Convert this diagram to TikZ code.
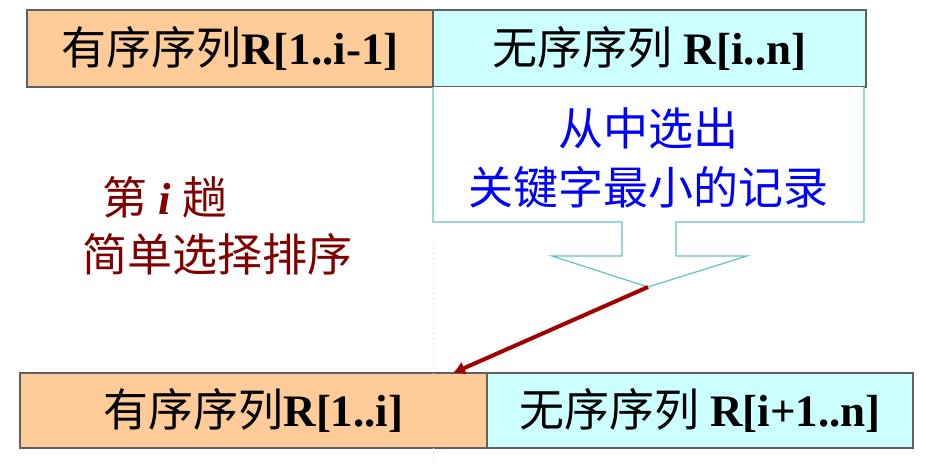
\documentclass[tikz,border=0pt]{standalone}
\usepackage{fontspec}
\usepackage{tikz}
\usetikzlibrary{arrows.meta, positioning}
\setmainfont{Liberation Serif}
\newfontfamily\cjk{Noto Sans CJK SC}
\newcommand{\zh}[1]{{\cjk #1}}
\definecolor{sortedfill}{RGB}{255, 204, 153}
\definecolor{unsortedfill}{RGB}{204, 255, 255}
\definecolor{boxgray}{RGB}{96, 96, 96}
\definecolor{callteal}{RGB}{96, 196, 196}
\definecolor{pickblue}{RGB}{0, 0, 255}
\definecolor{passred}{RGB}{128, 0, 0}
\definecolor{arrowred}{RGB}{160, 0, 0}

\begin{document}
\begin{tikzpicture}[
    x=0.5pt, y=-0.5pt, >=stealth,
    seqbox/.style={rectangle, draw=boxgray, thick, outer sep=0pt, inner sep=0pt, align=center, font=\fontsize{22.5}{27}\selectfont},
    sortedbox/.style={seqbox, fill=sortedfill},
    unsortedbox/.style={seqbox, fill=unsortedfill},
    calltext/.style={align=center, text=pickblue, font=\fontsize{22.5}{29.5}\selectfont\cjk},
    passtext/.style={text=passred, font=\fontsize{22.5}{27}\selectfont},
    callout/.style={draw=callteal, fill=white, line width=0.6pt},
    guide/.style={draw=callteal!40, dotted, line width=0.5pt},
    line/.style={draw, -{Latex[length=6pt, width=7pt]}, line width=2pt, arrowred}
  ]
    \useasboundingbox (0,0) rectangle (926,463);

    % top row
    \node (s1) [sortedbox, anchor=north west, minimum width=203pt, minimum height=38.5pt] at (27,10) {\zh{有序序列}\textbf{R[1..i-1]}};
    \node (u1) [unsortedbox, right=0pt of s1, minimum width=216.5pt, minimum height=38.5pt] {\zh{无序序列} \textbf{R[i..n]}};

    % callout with arrow
    \path[callout] (433,87) -- (433,222) -- (622,222) -- (622,256) -- (552,256) -- (648,287)
      -- (747,256) -- (676,256) -- (676,222) -- (864,222) -- (864,87);
    \coordinate (tip) at (648,287);
    \node (pick) [calltext] at (648,158) {从中选出\\关键字最小的记录};

    % pass label
    \node (pass) [passtext] at (165,197) {\zh{第} \textbf{\textit{i}} \zh{趟}};
    \node (name) [passtext] at (217,254) {\zh{简单选择排序}};

    % bottom row
    \node (s2) [sortedbox, anchor=north west, minimum width=233.5pt, minimum height=37.5pt] at (20,373) {\zh{有序序列}\textbf{R[1..i]}};
    \node (u2) [unsortedbox, right=0pt of s2, minimum width=213pt, minimum height=37.5pt] {\zh{无序序列} \textbf{R[i+1..n]}};
    \coordinate (put) at (453,373);

    \draw[guide] (433,243) -- (433,463);
    \draw[line] (tip) -- (put);
  \end{tikzpicture}
\end{document}
